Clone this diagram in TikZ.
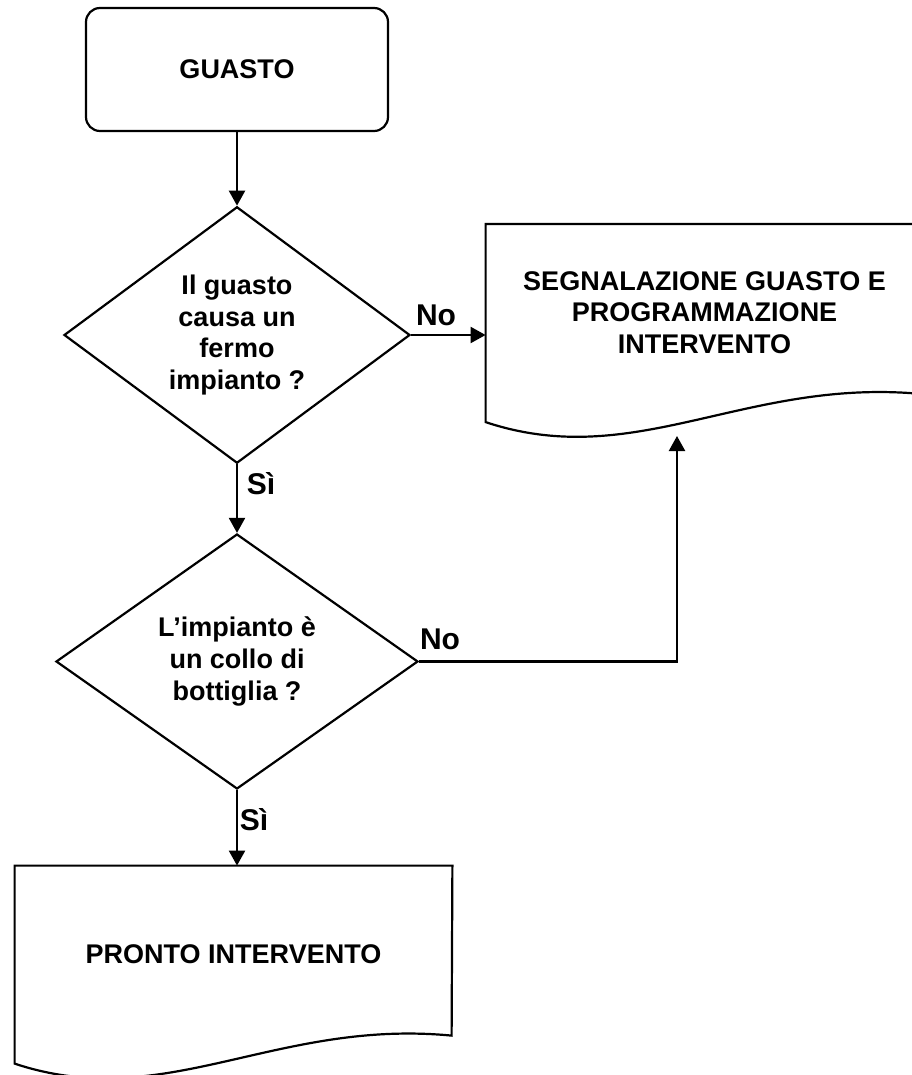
\documentclass[tikz,border=0pt]{standalone}
\usepackage{fontspec}
\setmainfont{Liberation Sans}
\usetikzlibrary{shapes.geometric,arrows.meta,calc}

% outline of a flowchart "document" box round a node
\newcommand{\docoutline}[1]{%
  \draw [line] (#1.north west) -- ($(#1.north west)+(0,-99pt)$)
    .. controls ($(#1.north west)+(75pt,-124pt)$) and ($(#1.north west)+(130pt,-76.5pt)$)
    .. ($(#1.north west)+(218.5pt,-85pt)$) -- (#1.north east) -- cycle;}

\begin{document}
\begin{tikzpicture}[x=0.5pt,y=-0.5pt,
    line/.style={black, line width=1.1pt},
    arrow/.style={line, -{Triangle[length=7.5pt,width=8pt]}},
    txt/.style={font=\bfseries\fontsize{13.5}{15.8}\selectfont, align=center, inner sep=0pt},
    startbox/.style={txt, draw, line width=1.1pt, rounded corners=7pt, minimum width=151pt, minimum height=61.5pt},
    question/.style={txt, draw, line width=1.1pt, diamond, minimum width=#1, minimum height=127.5pt},
    docbox/.style={txt, minimum width=218.5pt, minimum height=88pt},
    lbl/.style={font=\bfseries\fontsize{15}{17}\selectfont, inner sep=0pt}]

\useasboundingbox (0,0) rectangle (911,1075);

 \node (guasto) at (237,69.5) [startbox] {GUASTO};

 \node (q1) at (237,335) [question=173pt] {Il guasto\\causa un\\fermo\\impianto ?};
 \node (q2) at (237,661.5) [question=181pt] {L'impianto è\\un collo di\\bottiglia ?};

 \node (segn) at (704.5,312.5) [docbox] {SEGNALAZIONE GUASTO E\\PROGRAMMAZIONE\\INTERVENTO};
 \node (pronto) at (233.5,954) [docbox] {PRONTO INTERVENTO};
 \docoutline{segn}
 \docoutline{pronto}

 \coordinate (segnin) at (677,436);

 \draw [arrow] (guasto.south) -- (q1.north);
 \draw [arrow] (q1.east) -- (q1.east -| segn.west);
 \draw [arrow] (q1.south) -- (q2.north);
 \draw [arrow] (q2.east) -| (segnin);
 \draw [arrow] (q2.south) -- (q2.south |- pronto.north);

 \node (no1) at (436,315) [lbl] {No};
 \node (no2) at (440,639) [lbl] {No};
 \node (si1) at (261,484) [lbl] {Sì};
 \node (si2) at (254,820) [lbl] {Sì};

\end{tikzpicture}
\end{document}
